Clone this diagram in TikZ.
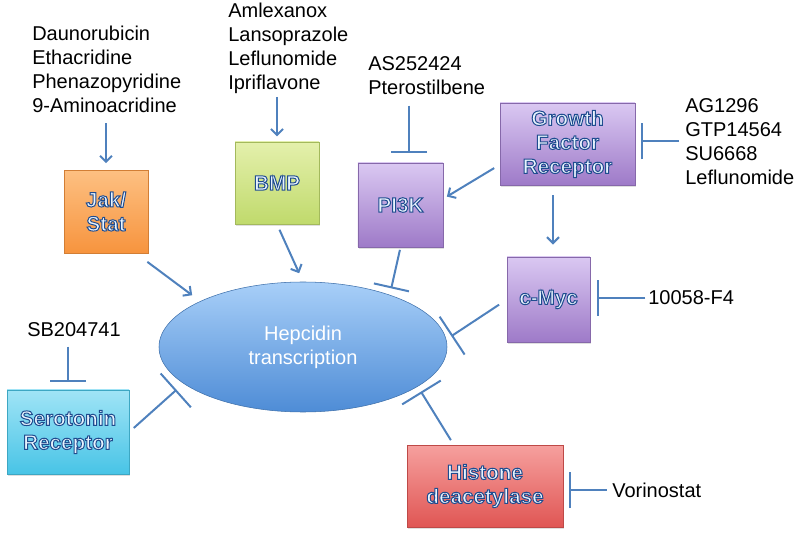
\documentclass[tikz,border=0pt]{standalone}
\usepackage{fontspec}
\setmainfont{Liberation Sans}
\usetikzlibrary{calc, positioning, arrows.meta, shapes.geometric, shadows}

\definecolor{linkblue}{RGB}{79,129,189}
\definecolor{glowfill}{RGB}{232,243,253}
\definecolor{orangetop}{RGB}{253,192,130}
\definecolor{orangebot}{RGB}{247,148,62}
\definecolor{greentop}{RGB}{228,240,172}
\definecolor{greenbot}{RGB}{192,218,108}
\definecolor{purpletop}{RGB}{218,200,242}
\definecolor{purplebot}{RGB}{158,122,200}
\definecolor{cyantop}{RGB}{160,228,246}
\definecolor{cyanbot}{RGB}{72,196,230}
\definecolor{redtop}{RGB}{246,160,158}
\definecolor{redbot}{RGB}{224,86,84}
\definecolor{heptop}{RGB}{168,207,248}
\definecolor{hepbot}{RGB}{78,140,214}

% outlined label text: fill, then stroke in dark blue
\newcommand{\glow}[1]{\special{pdf:literal direct q 0.12 0.30 0.56 RG 0.75 w 2 Tr}#1\special{pdf:literal direct Q}}

\begin{document}
\begin{tikzpicture}[x=0.75pt,y=0.75pt,yscale=-1,xscale=1,
  drug/.style={anchor=west, inner sep=0pt, align=left, font=\fontsize{15}{18}\selectfont},
  target/.style 2 args={rectangle, top color=#1, bottom color=#2, draw=#2!85!black, line width=0.4pt,
    align=center, inner sep=1pt, text=glowfill, font=\bfseries\fontsize{15.5}{18}\selectfont,
    drop shadow={opacity=0.25, shadow xshift=0.8pt, shadow yshift=-1.2pt}},
  act/.style={draw=linkblue, line width=1.5pt, -{Straight Barb[length=4.5pt,width=9pt]}},
  inhibit/.style={draw=linkblue, line width=1.5pt, -{Bar[width=27pt]}},
  inhibitwide/.style={inhibit, -{Bar[width=34pt]}}]
\useasboundingbox (0,0) rectangle (800,538);

%Shape: Ellipse [id:hepcidin]
\node [ellipse, minimum width=216pt, minimum height=97.5pt, inner sep=0pt, top color=heptop, bottom color=hepbot,
  draw=hepbot!80!black, line width=0.4pt, align=center, text=white, font=\fontsize{15}{18}\selectfont] (hep) at (303,347) {Hepcidin\\transcription};

%Shape: Rectangle [id:targets]
\node [target={orangetop}{orangebot}, minimum width=63pt, minimum height=62pt] (jak) at (106,211.5) {\glow{Jak/}\\\glow{Stat}};
\node [target={greentop}{greenbot}, minimum width=63pt, minimum height=61.5pt] (bmp) at (277,183) {\glow{BMP}};
\node [target={purpletop}{purplebot}, minimum width=64pt, minimum height=63pt] (pi3k) at (400.5,205) {\glow{PI3K}};
\node [target={purpletop}{purplebot}, minimum width=101pt, minimum height=61.5pt] (gfr) at (567.5,144) {\glow{Growth}\\\glow{Factor}\\\glow{Receptor}};
\node [target={purpletop}{purplebot}, minimum width=62pt, minimum height=64pt] (cmyc) at (548.5,299.5) {\glow{c-Myc}};
\node [target={cyantop}{cyanbot}, minimum width=91.5pt, minimum height=63pt] (sero) at (68,432) {\glow{Serotonin}\\\glow{Receptor}};
\node [target={redtop}{redbot}, minimum width=117pt, minimum height=61.5pt] (hist) at (485,486) {\glow{Histone}\\\glow{deacetylase}};

% Text Node
\node [drug] (jakdrugs) at (32,69) {Daunorubicin\\Ethacridine\\Phenazopyridine\\9-Aminoacridine};
% Text Node
\node [drug] (bmpdrugs) at (228,48.5) {Amlexanox\\Lansoprazole\\Leflunomide\\Ipriflavone};
% Text Node
\node [drug] (asdrugs) at (368,75.5) {AS252424\\Pterostilbene};
% Text Node
\node [drug] (agdrugs) at (685,141.5) {AG1296\\GTP14564\\SU6668\\Leflunomide};
% Text Node
\node [drug] (mycdrug) at (648,298) {10058-F4};
% Text Node
\node [drug] (sbdrug) at (27,330) {SB204741};
% Text Node
\node [drug] (vordrug) at (612,490) {Vorinostat};

%Straight Lines [id:activation]
\draw [act, shorten <=8pt, shorten >=5pt] (jakdrugs.south -| jak.north) -- (jak.north);
\draw [act, shorten <=2pt, shorten >=4pt] (bmpdrugs.south -| bmp.north) -- (bmp.north);
\draw [act, shorten <=4.5pt, shorten >=7pt] (bmp.south) -- (hep.north);
\draw [act, shorten <=11pt, shorten >=7.5pt] ($(jak.south)!0.7!(jak.south east)$) -- (hep.156);
\draw [act, shorten <=5pt, shorten >=3pt] ($(gfr.west)!0.5!(gfr.south west)$) -- ($(pi3k.east)!0.15!(pi3k.north east)$);
\draw [act, shorten <=7.5pt, shorten >=9pt] ($(cmyc.north |- gfr.south)+(4.5,0)$) -- ($(cmyc.north)+(4.5,0)$);

%Straight Lines [id:inhibition]
\draw [inhibit, shorten <=8pt, shorten >=7pt] ($(pi3k.north |- asdrugs.south)+(8.5,0)$) -- ($(pi3k.north)+(8.5,0)$);
\draw [inhibit, shorten <=4.5pt, shorten >=4.5pt] (agdrugs.west) -- (agdrugs.west -| gfr.east);
\draw [inhibit, shorten <=2pt, shorten >=5pt] (mycdrug.west) -- (mycdrug.west -| cmyc.east);
\draw [inhibit, shorten <=7pt, shorten >=6pt] (sbdrug.south -| sero.north) -- (sero.north);
\draw [inhibit, shorten <=4pt, shorten >=4pt] (vordrug.west) -- (vordrug.west -| hist.east);
\draw [inhibit, shorten <=2pt, shorten >=5pt] (pi3k.south) -- (hep.31);
\draw [inhibitwide, shorten <=7pt, shorten >=4.5pt] (cmyc.west) -- (hep.3);
\draw [inhibitwide, shorten <=4.5pt, shorten >=7pt] (sero.east) -- (hep.197);
\draw [inhibitwide, shorten <=4pt, shorten >=4.5pt] ($(hist.north west)!0.3!(hist.north east)$) -- (hep.341);

\end{tikzpicture}
\end{document}
